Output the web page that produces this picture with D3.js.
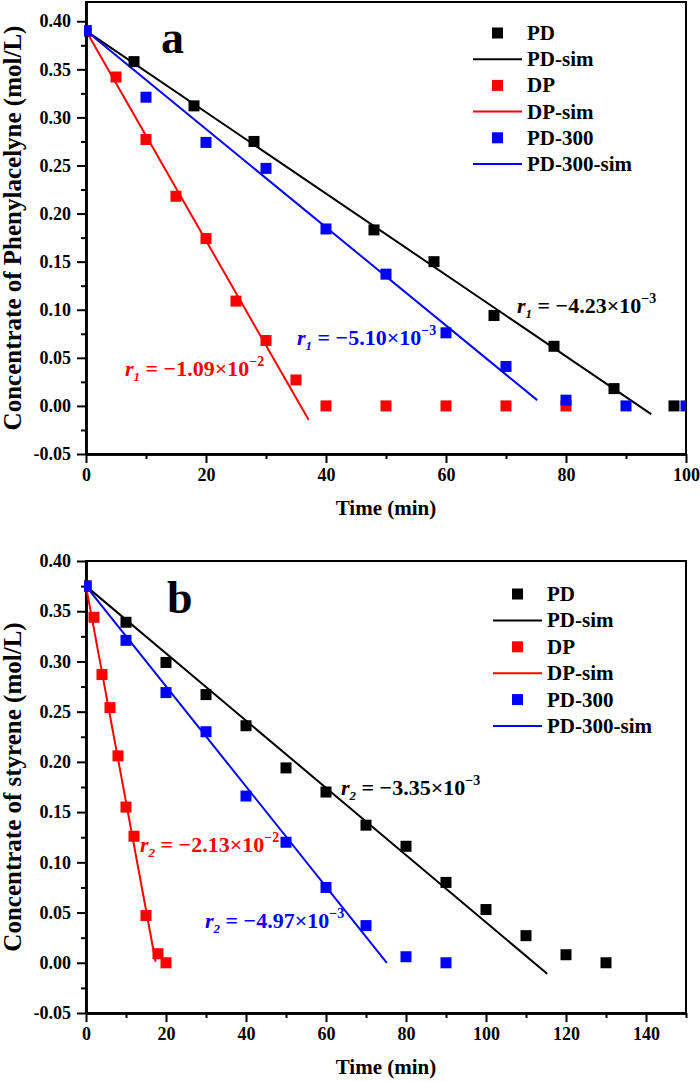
<!DOCTYPE html>
<html>
<head>
<meta charset="utf-8">
<script src="https://cdn.jsdelivr.net/npm/d3@7"></script>
<style>
  body { margin: 0; background: #fff; }
  svg { display: block; font-family: "Liberation Serif", "Times New Roman", serif; }
</style>
</head>
<body>
<svg id="chart" width="700" height="1082"></svg>
<script>
// ---------------- DATA ----------------
const seriesNames = ["PD", "DP", "PD-300"];
const seriesColors = ["#000000", "#ff0000", "#0000ff"];
const legendLabels = ["PD", "PD-sim", "DP", "DP-sim", "PD-300", "PD-300-sim"];

// Panel a : phenylacetylene
const aPD_t = [0, 8, 18, 28, 48, 58, 68, 78, 88, 98];
const aPD_c = [0.39, 0.358, 0.312, 0.275, 0.183, 0.150, 0.094, 0.062, 0.018, 0.0];
const aDP_t = [0, 5, 10, 15, 20, 25, 30, 35, 40, 50, 60, 70, 80];
const aDP_c = [0.39, 0.342, 0.277, 0.218, 0.174, 0.109, 0.068, 0.027, 0, 0, 0, 0, 0];
const aP3_t = [0, 10, 20, 30, 40, 50, 60, 70, 80, 90, 100];
const aP3_c = [0.39, 0.321, 0.274, 0.247, 0.184, 0.137, 0.076, 0.041, 0.006, 0, 0];
const aPDsim_t = [0, 94.2];
const aPDsim_c = [0.39, -0.0085];
const aDPsim_t = [0, 37.1];
const aDPsim_c = [0.39, -0.0145];
const aP3sim_t = [0, 75.2];
const aP3sim_c = [0.39, 0.006];
const aRates = ["−4.23×10", "−1.09×10", "−5.10×10"];
const aExps = ["−3", "−2", "−3"];

// Panel b : styrene
const bPD_t = [0, 10, 20, 30, 40, 50, 60, 70, 80, 90, 100, 110, 120, 130];
const bPD_c = [0.375, 0.339, 0.299, 0.267, 0.236, 0.194, 0.170, 0.137, 0.116, 0.080, 0.053, 0.027, 0.008, 0];
const bDP_t = [0, 2, 4, 6, 8, 10, 12, 15, 18, 20];
const bDP_c = [0.375, 0.344, 0.287, 0.254, 0.206, 0.155, 0.126, 0.047, 0.009, 0];
const bP3_t = [0, 10, 20, 30, 40, 50, 60, 70, 80, 90];
const bP3_c = [0.375, 0.321, 0.269, 0.230, 0.166, 0.120, 0.075, 0.037, 0.006, 0];
const bPDsim_t = [0, 115.3];
const bPDsim_c = [0.375, -0.011];
const bDPsim_t = [0, 17.4];
const bDPsim_c = [0.375, 0.001];
const bP3sim_t = [0, 75.2];
const bP3sim_c = [0.375, 0.0];
const bRates = ["−3.35×10", "−2.13×10", "−4.97×10"];
const bExps = ["−3", "−2", "−3"];

// Axis ticks
const aXMajor = [0, 20, 40, 60, 80, 100];
const aXMinor = [10, 30, 50, 70, 90];
const bXMajor = [0, 20, 40, 60, 80, 100, 120, 140];
const bXMinor = [10, 30, 50, 70, 90, 110, 130, 150];
const yMajor = [-0.05, 0, 0.05, 0.10, 0.15, 0.20, 0.25, 0.30, 0.35, 0.40];
const yMinor = [-0.025, 0.025, 0.075, 0.125, 0.175, 0.225, 0.275, 0.325, 0.375];

// ---------------- DRAWING ----------------
const svg = d3.select("#chart");
const zip = (t, c) => t.map((v, i) => [v, c[i]]);

function drawPanel(cfg) {
  const g = svg.append("g");
  const x = d3.scaleLinear().domain(cfg.xDomain).range([cfg.left, cfg.right]);
  const y = d3.scaleLinear().domain(cfg.yDomain).range([cfg.bottom, cfg.top]);

  const clipId = "clip-" + cfg.id;
  svg.append("clipPath").attr("id", clipId).append("rect")
    .attr("x", cfg.left - 2).attr("y", cfg.top)
    .attr("width", cfg.right - cfg.left + 2).attr("height", cfg.bottom - cfg.top);

  // frame
  g.append("rect").attr("x", cfg.left).attr("y", cfg.top)
    .attr("width", cfg.right - cfg.left).attr("height", cfg.bottom - cfg.top)
    .attr("fill", "none").attr("stroke", "#000").attr("stroke-width", 2);

  // axes
  const styleAxis = sel => {
    sel.selectAll(".domain").attr("stroke-width", 2.5);
    sel.selectAll(".tick line").attr("stroke-width", 2);
    sel.selectAll(".tick text").attr("font-size", 18).attr("font-weight", "bold")
      .attr("font-family", "Liberation Serif, serif").attr("fill", "#000");
  };
  g.append("g").attr("transform", `translate(0,${cfg.bottom})`)
    .call(d3.axisBottom(x).tickValues(cfg.xMinor).tickSize(5).tickFormat("").tickSizeOuter(0))
    .call(styleAxis);
  g.append("g").attr("transform", `translate(0,${cfg.bottom})`)
    .call(d3.axisBottom(x).tickValues(cfg.xMajor).tickSize(9).tickPadding(5).tickFormat(d => String(d)).tickSizeOuter(0))
    .call(styleAxis);
  g.append("g").attr("transform", `translate(${cfg.left},0)`)
    .call(d3.axisLeft(y).tickValues(cfg.yMinor).tickSize(5).tickFormat("").tickSizeOuter(0))
    .call(styleAxis);
  g.append("g").attr("transform", `translate(${cfg.left},0)`)
    .call(d3.axisLeft(y).tickValues(cfg.yMajor).tickSize(9).tickPadding(6).tickFormat(d => d.toFixed(2)).tickSizeOuter(0))
    .call(styleAxis);

  // axis titles
  g.append("text").attr("x", (cfg.left + cfg.right) / 2).attr("y", cfg.bottom + 61)
    .attr("text-anchor", "middle").attr("font-size", 21).attr("font-weight", "bold")
    .text("Time (min)");
  g.append("text")
    .attr("transform", `translate(21,${(cfg.top + cfg.bottom) / 2}) rotate(-90)`)
    .attr("text-anchor", "middle").attr("font-size", 25).attr("font-weight", "bold")
    .text(cfg.yTitle);

  // sim lines
  const line = d3.line().x(d => x(d[0])).y(d => y(d[1]));
  const plot = g.append("g").attr("clip-path", `url(#${clipId})`);
  cfg.sims.forEach((s, i) => {
    plot.append("path").datum(s).attr("d", line).attr("fill", "none")
      .attr("stroke", seriesColors[i]).attr("stroke-width", 2);
  });
  // markers
  const ms = 11;
  cfg.points.forEach((pts, i) => {
    plot.append("g").selectAll("rect").data(pts).join("rect")
      .attr("x", d => x(d[0]) - ms / 2).attr("y", d => y(d[1]) - ms / 2)
      .attr("width", ms).attr("height", ms).attr("fill", seriesColors[i]);
  });

  // panel letter
  g.append("text").attr("x", cfg.letterX).attr("y", cfg.letterY)
    .attr("font-size", 46).attr("font-weight", "bold").text(cfg.letter);

  // legend
  const lg = g.append("g");
  legendLabels.forEach((lab, k) => {
    const cy = cfg.legY + k * cfg.legStep;
    const col = seriesColors[Math.floor(k / 2)];
    if (k % 2 === 0) {
      lg.append("rect").attr("x", cfg.legX + 24.5 - 5.5).attr("y", cy - 5.5)
        .attr("width", 11).attr("height", 11).attr("fill", col);
    } else {
      lg.append("line").attr("x1", cfg.legX).attr("x2", cfg.legX + 49)
        .attr("y1", cy).attr("y2", cy).attr("stroke", col).attr("stroke-width", 2);
    }
    lg.append("text").attr("x", cfg.legX + 54).attr("y", cy + 7)
      .attr("font-size", 21).attr("font-weight", "bold").text(lab);
  });

  // rate annotations
  cfg.notes.forEach((n, i) => {
    const t = g.append("text").attr("x", n[0]).attr("y", n[1])
      .attr("font-size", 22).attr("font-weight", "bold").attr("fill", seriesColors[i]);
    t.append("tspan").attr("font-style", "italic").text("r");
    t.append("tspan").attr("font-style", "italic").attr("font-size", 13).attr("dy", 5).text(cfg.sub);
    t.append("tspan").attr("dy", -5).text(" = " + cfg.rates[i]);
    t.append("tspan").attr("font-size", 14).attr("dy", -10).text(cfg.exps[i]);
  });
}

drawPanel({
  id: "a", left: 86, right: 686, top: 2, bottom: 454,
  xDomain: [0, 100], yDomain: [-0.05, 0.42],
  xMajor: aXMajor, xMinor: aXMinor, yMajor: yMajor, yMinor: yMinor,
  yTitle: "Concentrate of Phenylacelyne (mol/L)",
  points: [zip(aPD_t, aPD_c), zip(aDP_t, aDP_c), zip(aP3_t, aP3_c)],
  sims: [zip(aPDsim_t, aPDsim_c), zip(aDPsim_t, aDPsim_c), zip(aP3sim_t, aP3sim_c)],
  letter: "a", letterX: 161, letterY: 53,
  legX: 473, legY: 33, legStep: 26.2,
  sub: "1", rates: aRates, exps: aExps,
  notes: [[517, 313], [125, 376], [297, 345]]
});

drawPanel({
  id: "b", left: 86, right: 686, top: 561, bottom: 1013,
  xDomain: [0, 150], yDomain: [-0.05, 0.40],
  xMajor: bXMajor, xMinor: bXMinor, yMajor: yMajor, yMinor: yMinor,
  yTitle: "Concentrate of styrene (mol/L)",
  points: [zip(bPD_t, bPD_c), zip(bDP_t, bDP_c), zip(bP3_t, bP3_c)],
  sims: [zip(bPDsim_t, bPDsim_c), zip(bDPsim_t, bDPsim_c), zip(bP3sim_t, bP3sim_c)],
  letter: "b", letterX: 167, letterY: 613,
  legX: 493, legY: 594, legStep: 26.4,
  sub: "2", rates: bRates, exps: bExps,
  notes: [[341, 795], [140, 852], [205, 928]]
});
</script>
</body>
</html>
